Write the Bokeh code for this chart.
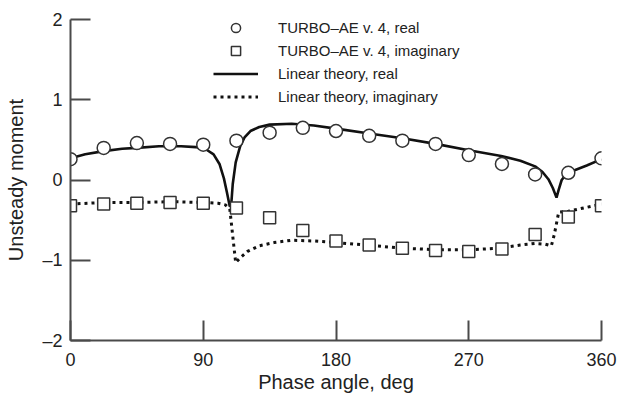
from bokeh.plotting import figure
from bokeh.models import Range1d, Legend, LegendItem, FixedTicker
from bokeh.embed import file_html
from bokeh.resources import INLINE

# TURBO-AE v.4 computed points
phase_pts = [0, 22.5, 45, 67.5, 90, 112.5, 135, 157.5, 180, 202.5, 225, 247.5, 270, 292.5, 315, 337.5, 360]
turbo_real = [0.26, 0.40, 0.46, 0.45, 0.44, 0.49, 0.59, 0.65, 0.61, 0.55, 0.49, 0.45, 0.31, 0.20, 0.07, 0.09, 0.27]
turbo_imag = [-0.32, -0.30, -0.29, -0.28, -0.29, -0.35, -0.47, -0.63, -0.76, -0.81, -0.85, -0.88, -0.89, -0.86, -0.68, -0.46, -0.32]

# Linear theory curves
lin_real_phase = [0, 10, 22.5, 35, 45, 60, 75, 85, 92, 97, 101, 104, 106, 108, 109, 110, 112, 115, 118, 122, 128, 135, 150, 165,
                  180, 202.5, 225, 247.5, 270, 292, 305, 315, 320, 324, 327, 329.5, 331, 333, 336, 340, 350, 360]
lin_real = [0.27, 0.32, 0.36, 0.39, 0.40, 0.42, 0.42, 0.41, 0.38, 0.32, 0.20, 0.02, -0.15, -0.33, -0.30, -0.05, 0.22, 0.42, 0.53, 0.61, 0.66, 0.69, 0.70, 0.68,
            0.64, 0.58, 0.52, 0.45, 0.37, 0.30, 0.24, 0.17, 0.10, 0.01, -0.10, -0.22, -0.12, 0.00, 0.07, 0.11, 0.18, 0.26]

lin_imag_phase = [0, 22.5, 45, 67.5, 90, 100, 105, 108, 110, 112, 115, 120, 128, 138, 150, 165, 180, 200, 225, 250, 270, 290,
                  305, 315, 322, 326, 328, 331, 337.5, 350, 360]
lin_imag = [-0.30, -0.28, -0.28, -0.27, -0.28, -0.29, -0.31, -0.36, -0.70, -1.03, -0.97, -0.89, -0.82, -0.78, -0.75, -0.76, -0.78, -0.81, -0.85, -0.87, -0.87, -0.85,
            -0.81, -0.79, -0.80, -0.82, -0.68, -0.40, -0.39, -0.34, -0.30]

x_ticks = [0, 90, 180, 270, 360]
y_ticks = [-2, -1, 0, 1, 2]
y_tick_labels = {-2: "\u20132", -1: "\u20131", 0: "0", 1: "1", 2: "2"}

legend_labels = ["TURBO\u2013AE v. 4, real", "TURBO\u2013AE v. 4, imaginary",
                 "Linear theory, real", "Linear theory, imaginary"]

FONT = "Liberation Sans"
TXT = "#222222"
AX = "#4a4a4a"

p = figure(width=618, height=397, output_backend="svg", toolbar_location=None,
           x_range=Range1d(0, 360), y_range=Range1d(-2, 2),
           min_border_left=70, min_border_right=17, min_border_top=19, min_border_bottom=57)
p.outline_line_color = None
p.grid.visible = False
p.background_fill_color = "white"

lr = p.line(lin_real_phase, lin_real, line_color="#111111", line_width=2.6)
li = p.line(lin_imag_phase, lin_imag, line_color="#111111", line_width=3, line_dash="3 4")
sc = p.scatter(phase_pts, turbo_real, marker="circle", size=13, fill_color="white",
               line_color="#333333", line_width=1.5)
ss = p.scatter(phase_pts, turbo_imag, marker="square", size=12, fill_color="white",
               line_color="#333333", line_width=1.5)

for ax in (p.xaxis[0], p.yaxis[0]):
    ax.axis_line_color = AX
    ax.axis_line_width = 2
    ax.major_tick_line_color = AX
    ax.major_tick_line_width = 2
    ax.major_tick_in = 20
    ax.major_tick_out = 0
    ax.minor_tick_line_color = None
    ax.major_label_text_font = FONT
    ax.major_label_text_font_size = "18px"
    ax.major_label_text_color = TXT
    ax.axis_label_text_font = FONT
    ax.axis_label_text_font_size = "20px"
    ax.axis_label_text_font_style = "normal"
    ax.axis_label_text_color = TXT

p.xaxis.ticker = FixedTicker(ticks=x_ticks)
p.yaxis.ticker = FixedTicker(ticks=y_ticks)
p.yaxis.major_label_overrides = y_tick_labels
p.xaxis.axis_label = "Phase angle, deg"
p.yaxis.axis_label = "Unsteady moment"
p.xaxis.major_label_standoff = 12
p.yaxis.major_label_standoff = 8
p.xaxis.axis_label_standoff = 2
p.yaxis.axis_label_standoff = 12

legend = Legend(items=[LegendItem(label=legend_labels[0], renderers=[sc]),
                       LegendItem(label=legend_labels[1], renderers=[ss]),
                       LegendItem(label=legend_labels[2], renderers=[lr]),
                       LegendItem(label=legend_labels[3], renderers=[li])],
                location=(143, 232), padding=0, margin=0, spacing=0,
                glyph_width=45, glyph_height=23, label_height=23, label_standoff=20,
                label_text_font=FONT, label_text_font_size="15px", label_text_color=TXT,
                border_line_color=None, background_fill_alpha=0)
p.add_layout(legend, "center")

open("out.html", "w").write(file_html(p, INLINE))
